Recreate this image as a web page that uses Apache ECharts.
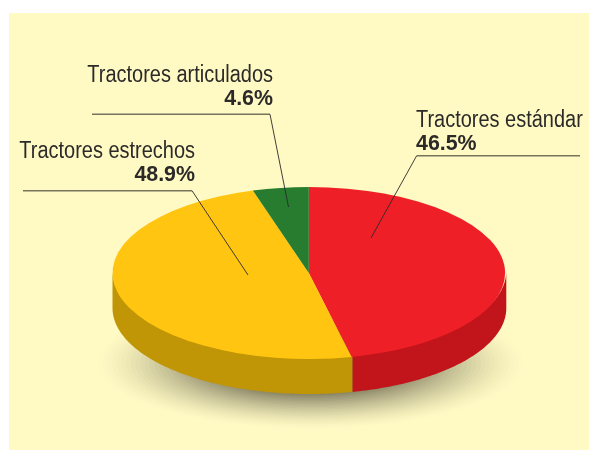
<!DOCTYPE html>
<html>
<head>
<meta charset="utf-8">
<style>
  html, body { margin: 0; padding: 0; background: #fff; }
  #main { width: 589px; height: 450px; }
</style>
<script src="https://cdn.jsdelivr.net/npm/echarts@6/dist/echarts.min.js"></script>
</head>
<body>
<div id="main"></div>
<script>
const categories = ['Tractores estándar', 'Tractores estrechos', 'Tractores articulados'];
const shares = [46.5, 48.9, 4.6];

const topColors = ['#EE1F26', '#FFC510', '#287C30'];
const sideColors = ['#C1141B', '#C09506', '#1D5C24'];
const panelColor = '#FFF9C4';
const textColor = '#2B2A29';
const textFont = '"Liberation Sans", sans-serif';

// pie geometry in px
const cx = 308.8, cy = 273, rx = 196.3, ry = 86, depth = 35;

// turn a share into clock angles, 0 at the top, going clockwise
function sliceAngles(index) {
  let start = 0;
  for (let i = 0; i < index; i++) start += shares[i];
  return [start / 100 * 2 * Math.PI, (start + shares[index]) / 100 * 2 * Math.PI];
}

function renderTop(params) {
  const a = sliceAngles(params.dataIndex);
  return {
    type: 'sector',
    x: cx,
    y: cy,
    scaleY: ry / rx,
    shape: {
      cx: 0,
      cy: 0,
      r: rx,
      startAngle: a[0] - Math.PI / 2,
      endAngle: a[1] - Math.PI / 2,
      clockwise: true
    },
    style: { fill: topColors[params.dataIndex] }
  };
}

function renderSide(params) {
  const a = sliceAngles(params.dataIndex);
  // only the front half of the rim can be seen
  const from = Math.max(a[0], Math.PI / 2);
  const to = Math.min(a[1], Math.PI * 1.5);
  if (to <= from) return null;
  const upper = [], lower = [];
  const steps = 80;
  for (let i = 0; i <= steps; i++) {
    const t = from + (to - from) * i / steps;
    const x = cx + 0.6 + (rx + 0.6) * Math.sin(t);
    const y = cy - ry * Math.cos(t);
    upper.push([x, y - 2]);
    lower.unshift([x, y + depth]);
  }
  return {
    type: 'polygon',
    shape: { points: upper.concat(lower) },
    style: { fill: sideColors[params.dataIndex] }
  };
}

// banded drop shadow under the pie
function shadowRings() {
  const rings = [];
  const count = 26;
  for (let i = 0; i < count; i++) {
    const k = Math.pow((i + 1) / count, 1.5);
    const t = 1 - 0.55 * (i / (count - 1));
    const r = Math.round(255 - 130 * k);
    const g = Math.round(249 - 128 * k);
    const b = Math.round(196 - 104 * k);
    rings.push({
      type: 'ellipse',
      z: 1,
      silent: true,
      shape: { cx: 310.5, cy: 363, rx: 212.5 * t, ry: 65.5 * t },
      style: { fill: 'rgb(' + r + ',' + g + ',' + b + ')' }
    });
  }
  return rings;
}

function leader(points, end) {
  return [
    {
      type: 'line',
      z: 10,
      silent: true,
      shape: { x1: points[0][0], y1: points[0][1], x2: points[1][0], y2: points[1][1] },
      style: { stroke: '#77745C', lineWidth: 1.5 }
    },
    {
      type: 'line',
      z: 10,
      silent: true,
      shape: { x1: points[1][0], y1: points[1][1], x2: end[0], y2: end[1] },
      style: { stroke: '#2B2A29', lineWidth: 0.9 }
    }
  ];
}

function label(index, x, y1, y2, align) {
  return [
    {
      type: 'text',
      z: 10,
      silent: true,
      x: x,
      y: y1,
      scaleX: 0.868,
      style: {
        text: categories[index],
        fill: textColor,
        font: '23px ' + textFont,
        textAlign: align,
        textVerticalAlign: 'bottom'
      }
    },
    {
      type: 'text',
      z: 10,
      silent: true,
      x: x,
      y: y2,
      scaleX: 0.95,
      style: {
        text: shares[index].toFixed(1) + '%',
        fill: textColor,
        font: 'bold 22.5px ' + textFont,
        textAlign: align,
        textVerticalAlign: 'bottom'
      }
    }
  ];
}

let myChart = echarts.init(document.getElementById('main'), null, { renderer: 'canvas' });

let option = {
  animation: false,
  graphic: {
    elements: [
      {
        type: 'rect',
        z: 0,
        silent: true,
        shape: { x: 9, y: 13, width: 580, height: 437 },
        style: { fill: panelColor }
      }
    ].concat(
      shadowRings(),
      leader([[580, 155.7], [416.7, 155.7]], [371, 238]),
      leader([[23, 190.7], [192, 190.7]], [248, 275]),
      leader([[92, 114.3], [270, 114.3]], [288.5, 207]),
      label(0, 416, 132, 155, 'left'),
      label(1, 195, 163, 186, 'right'),
      label(2, 273, 87, 110, 'right')
    )
  },
  series: [
    {
      type: 'custom',
      coordinateSystem: 'none',
      silent: true,
      z: 2,
      renderItem: renderSide,
      data: shares
    },
    {
      type: 'custom',
      coordinateSystem: 'none',
      silent: true,
      z: 3,
      renderItem: renderTop,
      data: shares
    }
  ]
};

option && myChart.setOption(option);
</script>
</body>
</html>
